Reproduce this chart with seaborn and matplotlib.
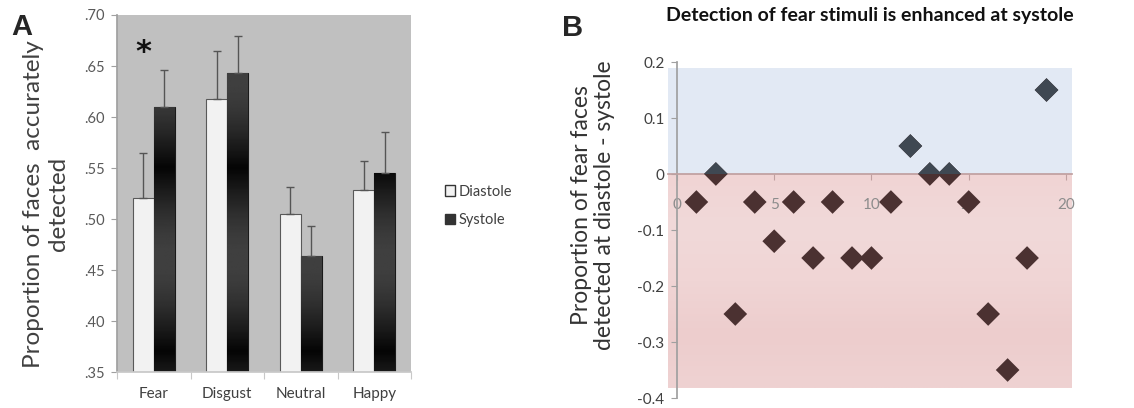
"""
Cardiac-cycle face detection figure: bar chart (A) and per-participant difference scatter (B).
"""

import numpy as np
import pandas as pd
import matplotlib
matplotlib.use("Agg")
import matplotlib.pyplot as plt
from matplotlib.patches import Patch, Rectangle
from matplotlib.colors import LinearSegmentedColormap
from matplotlib.ticker import FixedLocator, FuncFormatter
import seaborn as sns

# ─── Data ─────────────────────────────────────────────────────────────────────
emotions = ["Fear", "Disgust", "Neutral", "Happy"]
diastole_mean = [0.521, 0.618, 0.505, 0.528]
diastole_err = [0.044, 0.047, 0.026, 0.029]
systole_mean = [0.610, 0.643, 0.464, 0.545]
systole_err = [0.036, 0.036, 0.029, 0.040]

participants = list(range(1, 20))
fear_diff = [-0.05, 0.0, -0.25, -0.05, -0.12, -0.05, -0.15, -0.05, -0.15, -0.15,
             -0.05, 0.05, 0.0, 0.0, -0.05, -0.25, -0.35, -0.15, 0.15]

phases = ["Diastole", "Systole"]

# ─── Style ────────────────────────────────────────────────────────────────────
sns.set_theme(style="white")
plt.rcParams["font.family"] = ["Lato", "DejaVu Sans"]

bars_df = pd.DataFrame({
    "emotion": emotions * 2,
    "phase": ["Diastole"] * 4 + ["Systole"] * 4,
    "prop": diastole_mean + systole_mean,
})
diff_df = pd.DataFrame({"participant": participants, "diff": fear_diff})

fig = plt.figure(figsize=(11.34, 4.08), dpi=100)
W, H = 1134, 408
axA = fig.add_axes([117 / W, 1 - 372 / H, 294 / W, 357 / H])
axB = fig.add_axes([668 / W, 1 - 398 / H, 404 / W, 336 / H])

# ─── Panel A ──────────────────────────────────────────────────────────────────
axA.set_facecolor("#c0c0c0")
sns.barplot(data=bars_df, x="emotion", y="prop", hue="phase", order=emotions,
            hue_order=phases, palette={"Diastole": "#f2f2f2", "Systole": "#2a2a2a"},
            width=0.57, errorbar=None, legend=False, ax=axA,
            edgecolor="#595959", linewidth=0.8)

# vertical "reflected" gradient on the systole bars
ys = np.linspace(0.35, 0.70, 300)
shade = 0.02 + 0.23 * np.abs(np.sin(np.pi * (ys - 0.37) / 0.18))
for bar in axA.containers[1]:
    bar.set_edgecolor("#1a1a1a")
    x0, w = bar.get_x(), bar.get_width()
    im = axA.imshow(shade.reshape(-1, 1), extent=[x0, x0 + w, 0.35, 0.70],
                    origin="lower", cmap="gray", vmin=0, vmax=1, aspect="auto",
                    interpolation="bilinear", zorder=bar.get_zorder() + 0.01)
    im.set_clip_path(bar)

for cont, means, errs in zip(axA.containers, [diastole_mean, systole_mean],
                             [diastole_err, systole_err]):
    xs = [b.get_x() + b.get_width() / 2 for b in cont]
    axA.errorbar(xs, means, yerr=[np.zeros(len(errs)), errs], fmt="none",
                 ecolor="#555555", elinewidth=1.0, capsize=3, capthick=1.0,
                 zorder=5)

axA.set_xlim(-0.5, 3.5)
axA.set_ylim(0.35, 0.70)
axA.yaxis.set_major_locator(FixedLocator(np.arange(0.35, 0.701, 0.05)))
axA.yaxis.set_major_formatter(FuncFormatter(lambda v, p: f"{v:.2f}"[1:]))
axA.xaxis.set_minor_locator(FixedLocator([-0.5, 0.5, 1.5, 2.5, 3.5]))
axA.tick_params(axis="y", left=True, length=4, width=0.8, color="#a0a0a0",
                labelsize=10.5, labelcolor="#595959", pad=5)
axA.tick_params(axis="x", which="major", length=0, labelsize=11,
                labelcolor="#404040", pad=11)
axA.tick_params(axis="x", which="minor", bottom=True, length=5, width=0.8,
                color="#c8c8c8")
for side in ["top", "right"]:
    axA.spines[side].set_visible(False)
axA.spines["left"].set_color("#a0a0a0")
axA.spines["bottom"].set_color("#c8c8c8")
axA.set_xlabel("")
axA.set_ylabel("Proportion of faces  accurately\ndetected", fontsize=17.5,
               color="#404040", linespacing=1.2)
axA.yaxis.label.set_va("center")
axA.yaxis.set_label_coords(-(117 - 46) / 294, 0.47)

axA.text(-0.143, 0.663, "*", ha="center", va="center", fontsize=22,
         fontweight="bold", family="DejaVu Sans", color="#111111")

handles = [Patch(facecolor="#f2f2f2", edgecolor="#333333", label="Diastole"),
           Patch(facecolor="#333333", edgecolor="#333333", label="Systole")]
axA.legend(handles=handles, loc="center left", bbox_to_anchor=(1.07, 0.465),
           frameon=False, fontsize=10.5, handlelength=0.7, handleheight=0.7,
           handletextpad=0.25, labelspacing=1.0, labelcolor="#404040")

# ─── Panel B ──────────────────────────────────────────────────────────────────
axB.set_xlim(-0.46, 20.31)
axB.set_ylim(-0.4, 0.2)
axB.set_axisbelow(True)
red_rect = Rectangle((-0.46, -0.382), 20.77, 0.382, facecolor="#efd5d5",
                     edgecolor="none", zorder=0.1)
blue_rect = Rectangle((-0.46, 0), 20.77, 0.189, facecolor="#e2e9f4",
                      edgecolor="none", zorder=0.1)
axB.add_patch(red_rect)
axB.add_patch(blue_rect)
red_cmap = LinearSegmentedColormap.from_list(
    "pinkband", ["#efd2d2", "#edcdcd", "#f0d5d5", "#f1d9d9", "#f0d4d4"])
band = axB.imshow(np.linspace(0, 1, 200).reshape(-1, 1), cmap=red_cmap,
                  extent=[-0.46, 20.31, -0.382, 0], origin="lower",
                  aspect="auto", interpolation="bilinear", zorder=0.15)
band.set_clip_path(red_rect)

sns.scatterplot(data=diff_df, x="participant", y="diff", marker="D", s=145,
                color="#4b3131", edgecolor="none", linewidth=0, zorder=3, ax=axB)
sns.scatterplot(data=diff_df, x="participant", y="diff", marker="D", s=145,
                color="#3f4852", edgecolor="none", linewidth=0, zorder=3.1, ax=axB)
axB.collections[-1].set_clip_path(blue_rect)
axB.set_xlim(-0.46, 20.31)
axB.set_ylim(-0.4, 0.2)

axB.spines["left"].set_position(("data", 0))
axB.spines["bottom"].set_position(("data", 0))
for side in ["top", "right"]:
    axB.spines[side].set_visible(False)
axB.spines["left"].set_color("#a0a0a0")
axB.spines["bottom"].set_color("#c0a0a0")
axB.xaxis.set_major_locator(FixedLocator([0, 5, 10, 15, 20]))
axB.yaxis.set_major_locator(FixedLocator(np.round(np.arange(-0.4, 0.201, 0.1), 1)))
axB.yaxis.set_major_formatter(
    FuncFormatter(lambda v, p: "0" if abs(v) < 1e-9 else f"{v:.1f}"))
axB.tick_params(axis="x", bottom=True, length=4, width=0.8, color="#c0a0a0",
                labelsize=11, labelcolor="#8c8c8c", pad=13)
axB.tick_params(axis="y", left=True, length=4, width=0.8, color="#a0a0a0",
                labelsize=11, labelcolor="#404040", pad=5)
axB.set_xlabel("")
axB.set_ylabel("Proportion of fear faces\ndetected at diastole - systole",
               fontsize=16.5, color="#333333", linespacing=1.1)
axB.yaxis.label.set_va("center")
axB.yaxis.set_label_coords((593 - 668) / 404, 0.574)
axB.text(0.5, 1 + (62 - 15) / 336, "Detection of fear stimuli is enhanced at systole",
         transform=axB.transAxes, ha="center", va="center", fontsize=14,
         fontweight="bold", color="#111111")

# ─── Panel letters ────────────────────────────────────────────────────────────
fig.text(22 / W, 1 - 27 / H, "A", fontsize=21, fontweight="bold",
         family="Liberation Sans", ha="center", va="center")
fig.text(573 / W, 1 - 28 / H, "B", fontsize=21, fontweight="bold",
         family="Liberation Sans", ha="center", va="center")

fig.savefig("out.png", dpi=100)
